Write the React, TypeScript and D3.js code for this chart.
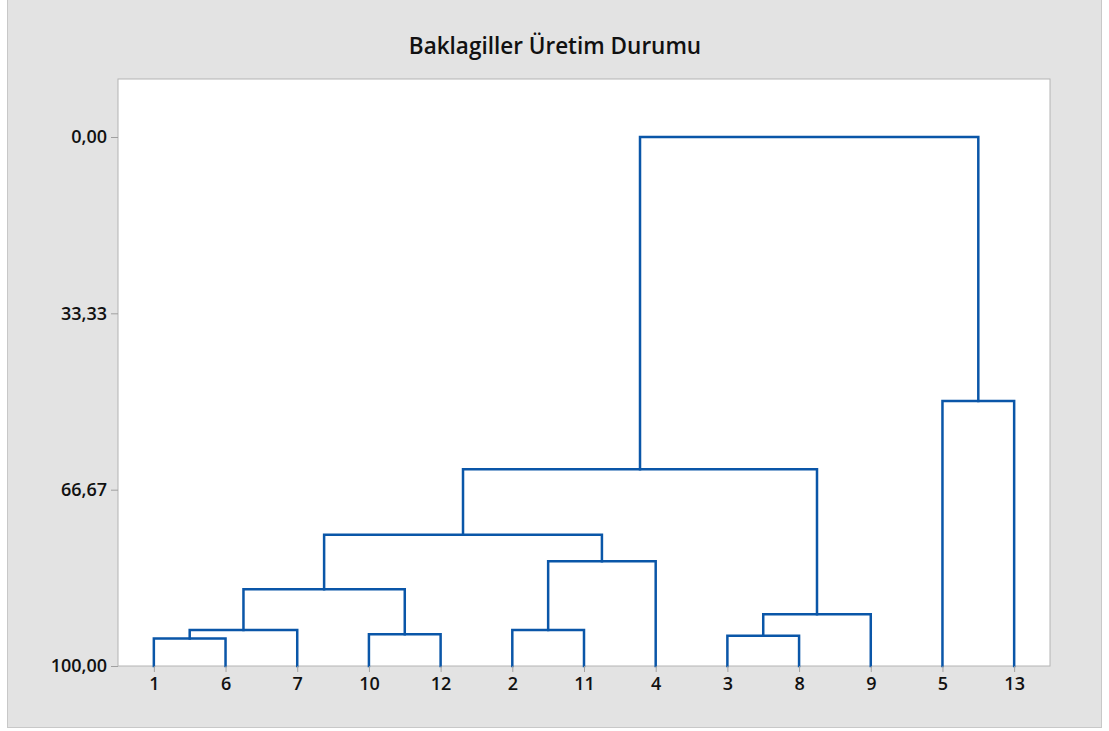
import { useEffect, useRef } from 'react';
import * as d3 from 'd3';

// leaf order along the x axis (observation numbers)
const leaves = ['1', '6', '7', '10', '12', '2', '11', '4', '3', '8', '9', '5', '13'];

// merge steps: cluster id, left child, right child, similarity level
const mergeIds = ['c1', 'c2', 'c3', 'c4', 'c5', 'c6', 'c7', 'c8', 'c9', 'c10', 'c11', 'c12'];
const mergeLeft = ['1', '10', '3', 'c1', '2', 'c3', 'c4', 'c5', 'c7', 'c9', '5', 'c10'];
const mergeRight = ['6', '12', '8', '7', '11', '9', 'c2', '4', 'c8', 'c6', '13', 'c11'];
const mergeSim = [94.8, 94.0, 94.3, 93.2, 93.2, 90.2, 85.5, 80.2, 75.2, 62.8, 49.9, 0];

const yTicks = [0, 33.33, 66.67, 100];
const fmt = (v: number) => v.toFixed(2).replace('.', ',');

type Node = { id: string; sim: number; children?: Node[] };

export default function App() {
  const ref = useRef<SVGSVGElement>(null);

  useEffect(() => {
    if (!ref.current) return;
    const plot = { left: 118, top: 79, right: 1050, bottom: 666 };
    const svg = d3.select(ref.current);
    svg.selectAll('*').remove();

    svg.append('rect')
      .attr('x', 7.5).attr('y', -1)
      .attr('width', 1094).attr('height', 728.5)
      .attr('fill', '#e3e3e3').attr('stroke', '#c8c8c8');

    svg.append('rect')
      .attr('x', plot.left).attr('y', plot.top)
      .attr('width', plot.right - plot.left).attr('height', plot.bottom - plot.top)
      .attr('fill', '#ffffff').attr('stroke', '#b4b4b4');

    svg.append('text')
      .attr('x', 555)
      .attr('y', 54)
      .attr('text-anchor', 'middle')
      .attr('font-family', 'Open Sans, sans-serif')
      .attr('font-weight', 600)
      .attr('font-size', 22.5)
      .attr('fill', '#111')
      .text('Baklagiller Üretim Durumu');

    const x = d3.scalePoint<string>().domain(leaves).range([plot.left, plot.right]).padding(0.5);
    const y = d3.scaleLinear().domain([0, 100]).range([137, plot.bottom]);

    // build the tree from the merge table
    const nodes = new Map<string, Node>();
    leaves.forEach((l) => nodes.set(l, { id: l, sim: 100 }));
    mergeIds.forEach((id, i) => {
      nodes.set(id, { id, sim: mergeSim[i], children: [nodes.get(mergeLeft[i])!, nodes.get(mergeRight[i])!] });
    });
    const root = d3.hierarchy(nodes.get(mergeIds[mergeIds.length - 1])!);
    const xPos = new Map<d3.HierarchyNode<Node>, number>();
    root.eachAfter((n) => {
      if (!n.children) xPos.set(n, x(n.data.id)!);
      else xPos.set(n, d3.mean(n.children, (c) => xPos.get(c)!)!);
    });

    const g = svg.append('g');
    root.each((n) => {
      if (!n.children) return;
      const [a, b] = n.children;
      const path = d3.path();
      path.moveTo(xPos.get(a)!, y(a.data.sim));
      path.lineTo(xPos.get(a)!, y(n.data.sim));
      path.lineTo(xPos.get(b)!, y(n.data.sim));
      path.lineTo(xPos.get(b)!, y(b.data.sim));
      g.append('path')
        .attr('d', path.toString())
        .attr('fill', 'none')
        .attr('stroke', '#0a56a8')
        .attr('stroke-width', 2.5)
        .attr('stroke-linejoin', 'miter')
        .attr('stroke-linecap', 'square');
    });

    const yAxis = svg.append('g')
      .attr('transform', `translate(${plot.left},0)`)
      .call(d3.axisLeft(y).tickValues(yTicks).tickFormat((d) => fmt(d as number)).tickSize(7).tickPadding(4));
    yAxis.select('.domain').remove();

    const xAxis = svg.append('g')
      .attr('transform', `translate(0,${plot.bottom})`)
      .call(d3.axisBottom(x).tickSize(6).tickPadding(5));
    xAxis.select('.domain').remove();

    svg.selectAll('.tick line').attr('stroke', '#a0a0a0');
    svg.selectAll('.tick text')
      .attr('fill', '#111')
      .attr('font-family', 'Open Sans, sans-serif')
      .attr('font-weight', 600)
      .attr('font-size', 18);
  }, []);

  return <svg ref={ref} style={{ position: 'absolute', left: 0, top: 0 }} width={1109} height={731} />;
}
